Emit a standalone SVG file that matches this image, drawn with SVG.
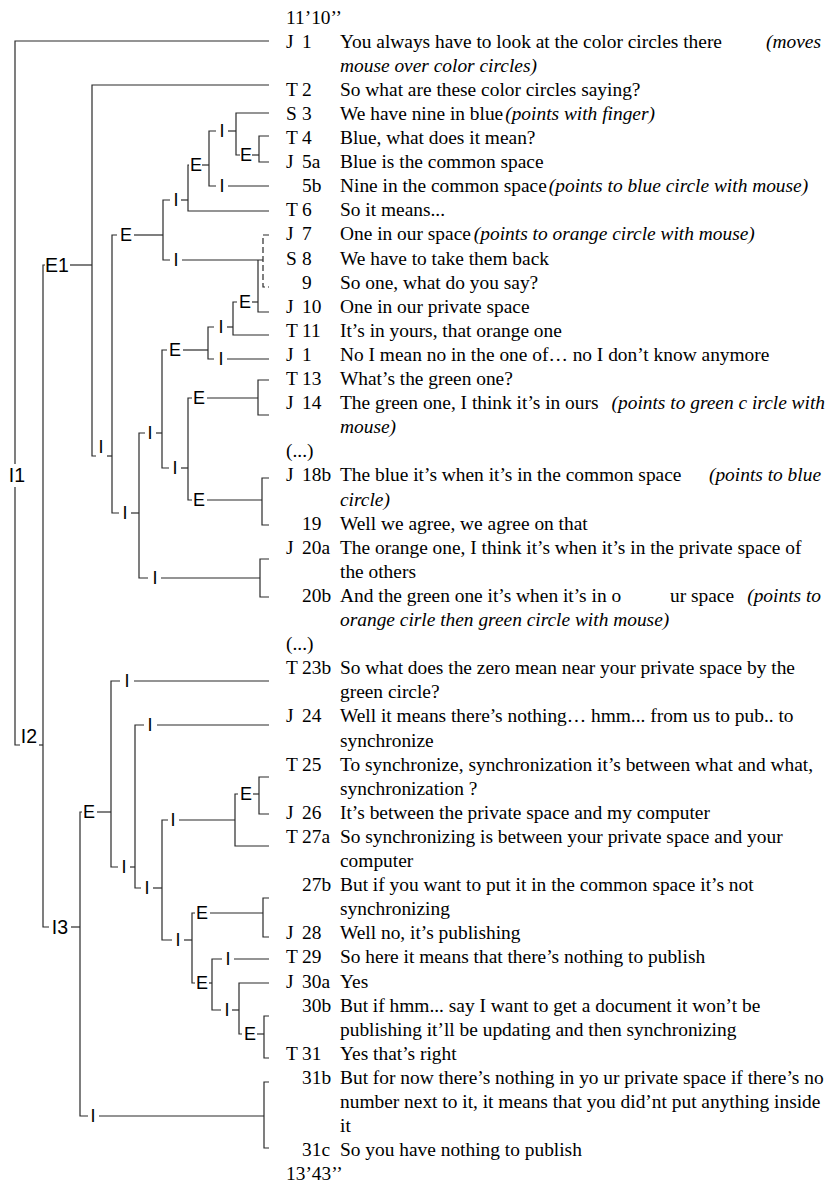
<svg xmlns="http://www.w3.org/2000/svg" width="828" height="1184" viewBox="0 0 828 1184">
<style>
.tx{font-family:"Liberation Serif","Times New Roman",serif;font-size:19.4px;fill:#000}
.it{font-style:italic}
.lb{font-family:"Liberation Sans",Arial,sans-serif;font-size:18px;fill:#000;text-anchor:middle}
.big{font-size:19.5px}
.cn path{stroke:#2a2a2a;stroke-width:1.2;fill:none}
.cn path.d{stroke-dasharray:6 3}
</style>
<rect width="828" height="1184" fill="#fff"/>
<g class="cn" id="connectors">
<path d="M269 41 H15 V464"/><path d="M15 487 V745 H20"/>
<path d="M39 745 H43"/><path d="M45 265 H43 V927 H49"/>
<path d="M70 265 H92"/><path d="M269 85 H92 V456 H96"/>
<path d="M107 456 H112"/><path d="M117 235 H112 V513 H119"/>
<path d="M134 235 H163"/><path d="M170 200 H163 V260 H170"/>
<path d="M181 200 H188"/><path d="M189 165 H188 V211 H269"/>
<path d="M202 165 H209"/><path d="M216 131 H209 V186 H216"/>
<path d="M228 131 H236"/><path d="M269 113 H236 V155 H240"/>
<path d="M252 155 H259"/><path d="M269 136 H259 V162 H269"/>
<path d="M228 186 H269"/>
<path d="M182 260 H263"/><path d="M258 260 V312 H269"/>
<path class="d" d="M269 235 H263 V287 H269"/>
<path d="M252 302 H258"/><path d="M237 302 H233 V335 H269"/>
<path d="M227 327 H233"/><path d="M214 327 H208 V359 H214"/>
<path d="M183 350 H208"/><path d="M167 350 H162 V468 H169"/>
<path d="M227 359 H269"/>
<path d="M156 433 H162"/><path d="M145 433 H139 V578 H148"/>
<path d="M181 468 H188"/><path d="M192 398 H188 V500 H192"/>
<path d="M207 398 H258"/><path d="M269 380 H258 V415 H269"/>
<path d="M207 500 H262"/><path d="M269 478 H262 V525 H269"/>
<path d="M131 513 H139"/>
<path d="M161 578 H260"/><path d="M269 559 H260 V597 H269"/>
<path d="M71 927 H80"/><path d="M82 812 H80 V1116 H88"/>
<path d="M97 812 H111"/><path d="M120 681 H111 V867 H118"/>
<path d="M134 681 H269"/>
<path d="M130 867 H135"/><path d="M144 725 H135 V888 H141"/>
<path d="M157 725 H269"/>
<path d="M153 888 H162"/><path d="M168 820 H162 V940 H172"/>
<path d="M179 820 H235"/><path d="M238 794 H235 V846 H269"/>
<path d="M253 794 H259"/><path d="M269 777 H259 V814 H269"/>
<path d="M184 940 H192"/><path d="M195 913 H192 V983 H195"/>
<path d="M210 913 H263"/><path d="M269 898 H263 V937 H269"/>
<path d="M209 983 H212"/><path d="M222 959 H212 V1010 H221"/>
<path d="M234 959 H269"/>
<path d="M232 1010 H239"/><path d="M269 983 H239 V1034 H242"/>
<path d="M257 1034 H264"/><path d="M269 1016 H264 V1058 H269"/>
<path d="M99 1116 H264"/><path d="M269 1082 H264 V1148 H269"/>
</g>
<g id="node-I1"><text class="lb big" x="17" y="482">I1</text></g>
<g id="node-I2"><text class="lb big" x="29" y="743">I2</text></g>
<g id="node-E1"><text class="lb big" x="57" y="272">E1</text></g>
<g id="node-I3"><text class="lb big" x="60" y="934">I3</text></g>
<g id="node-Ia"><text class="lb" x="101" y="453">I</text></g>
<g id="node-Ea"><text class="lb" x="126" y="241.4">E</text></g>
<g id="node-Id"><text class="lb" x="176" y="206.4">I</text></g>
<g id="node-Ec"><text class="lb" x="196" y="171.4">E</text></g>
<g id="node-Ic"><text class="lb" x="222" y="137.4">I</text></g>
<g id="node-Eb"><text class="lb" x="246" y="161.4">E</text></g>
<g id="node-If"><text class="lb" x="222" y="192.4">I</text></g>
<g id="node-Ie"><text class="lb" x="176" y="266.4">I</text></g>
<g id="node-Ed"><text class="lb" x="245" y="308.4">E</text></g>
<g id="node-Ig"><text class="lb" x="221" y="333.4">I</text></g>
<g id="node-Ee"><text class="lb" x="175" y="356.4">E</text></g>
<g id="node-Ih"><text class="lb" x="221" y="365.4">I</text></g>
<g id="node-Ii"><text class="lb" x="150" y="439.4">I</text></g>
<g id="node-Ij"><text class="lb" x="175" y="474.4">I</text></g>
<g id="node-Ef"><text class="lb" x="199" y="404.4">E</text></g>
<g id="node-Eg"><text class="lb" x="199" y="506.4">E</text></g>
<g id="node-Ib"><text class="lb" x="125" y="519.4">I</text></g>
<g id="node-Ik"><text class="lb" x="155" y="584.4">I</text></g>
<g id="node-Eh"><text class="lb" x="89" y="818.4">E</text></g>
<g id="node-Il"><text class="lb" x="127" y="687.4">I</text></g>
<g id="node-Ip"><text class="lb" x="124" y="873.4">I</text></g>
<g id="node-Im"><text class="lb" x="150" y="731.4">I</text></g>
<g id="node-Iq"><text class="lb" x="147" y="894.4">I</text></g>
<g id="node-In"><text class="lb" x="173" y="826.4">I</text></g>
<g id="node-Ek"><text class="lb" x="246" y="800.4">E</text></g>
<g id="node-Ir"><text class="lb" x="178" y="946.4">I</text></g>
<g id="node-El"><text class="lb" x="202" y="919.4">E</text></g>
<g id="node-Em"><text class="lb" x="202" y="989.4">E</text></g>
<g id="node-Is"><text class="lb" x="228" y="965.4">I</text></g>
<g id="node-It"><text class="lb" x="227" y="1016.4">I</text></g>
<g id="node-En"><text class="lb" x="250" y="1040.4">E</text></g>
<g id="node-Iz"><text class="lb" x="93" y="1122.4">I</text></g>
<g class="tx">
<g id="t-start"><text x="286" y="23.5">11’10’’</text></g>
<g id="u-1"><text x="286" y="47.6">J</text><text x="302" y="47.6">1</text><text x="340" y="47.6">You always have to look at the color circles there</text><text class="it" x="821" y="47.6" text-anchor="end">(moves</text><text class="it" x="340" y="71.7">mouse over color circles)</text></g>
<g id="u-2"><text x="286" y="95.8">T</text><text x="302" y="95.8">2</text><text x="340" y="95.8">So what are these color circles saying?</text></g>
<g id="u-3"><text x="286" y="119.9">S</text><text x="302" y="119.9">3</text><text x="340" y="119.9">We have nine in blue<tspan class="it" dx="2">(points with finger)</tspan></text></g>
<g id="u-4"><text x="286" y="144">T</text><text x="302" y="144">4</text><text x="340" y="144">Blue, what does it mean?</text></g>
<g id="u-5a"><text x="286" y="168.1">J</text><text x="302" y="168.1">5a</text><text x="340" y="168.1">Blue is the common space</text></g>
<g id="u-5b"><text x="302" y="192.2">5b</text><text x="340" y="192.2">Nine in the common space<tspan class="it" dx="2">(points to blue circle with mouse)</tspan></text></g>
<g id="u-6"><text x="286" y="216.3">T</text><text x="302" y="216.3">6</text><text x="340" y="216.3">So it means...</text></g>
<g id="u-7"><text x="286" y="240.4">J</text><text x="302" y="240.4">7</text><text x="340" y="240.4">One in our space<tspan class="it" dx="3">(points to orange circle with mouse)</tspan></text></g>
<g id="u-8"><text x="286" y="264.5">S</text><text x="302" y="264.5">8</text><text x="340" y="264.5">We have to take them back</text></g>
<g id="u-9"><text x="302" y="288.6">9</text><text x="340" y="288.6">So one, what do you say?</text></g>
<g id="u-10"><text x="286" y="312.7">J</text><text x="302" y="312.7">10</text><text x="340" y="312.7">One in our private space</text></g>
<g id="u-11"><text x="286" y="336.8">T</text><text x="302" y="336.8">11</text><text x="340" y="336.8">It’s in yours, that orange one</text></g>
<g id="u-12"><text x="286" y="360.9">J</text><text x="302" y="360.9">1</text><text x="340" y="360.9">No I mean no in the one of… no I don’t know anymore</text></g>
<g id="u-13"><text x="286" y="385">T</text><text x="302" y="385">13</text><text x="340" y="385">What’s the green one?</text></g>
<g id="u-14"><text x="286" y="409.1">J</text><text x="302" y="409.1">14</text><text x="340" y="409.1">The green one, I think it’s in ours</text><text class="it" x="825" y="409.1" text-anchor="end">(points to green c ircle with</text><text class="it" x="340" y="433.2">mouse)</text></g>
<g id="gap-1"><text x="286" y="457.3">(...)</text></g>
<g id="u-18b"><text x="286" y="481.4">J</text><text x="302" y="481.4">18b</text><text x="340" y="481.4">The blue it’s when it’s in the common space</text><text class="it" x="821" y="481.4" text-anchor="end">(points to blue</text><text class="it" x="340" y="505.5">circle)</text></g>
<g id="u-19"><text x="302" y="529.6">19</text><text x="340" y="529.6">Well we agree, we agree on that</text></g>
<g id="u-20a"><text x="286" y="553.7">J</text><text x="302" y="553.7">20a</text><text x="340" y="553.7">The orange one, I think it’s when it’s in the private space of</text><text x="340" y="577.8">the others</text></g>
<g id="u-20b"><text x="302" y="601.9">20b</text><text x="340" y="601.9">And the green one it’s when it’s in o</text><text x="670" y="601.9">ur space</text><text class="it" x="821" y="601.9" text-anchor="end">(points to</text><text class="it" x="340" y="626">orange cirle then green circle with mouse)</text></g>
<g id="gap-2"><text x="286" y="650.1">(...)</text></g>
<g id="u-23b"><text x="286" y="674.2">T</text><text x="302" y="674.2">23b</text><text x="340" y="674.2">So what does the zero mean near your private space by the</text><text x="340" y="698.3">green circle?</text></g>
<g id="u-24"><text x="286" y="722.4">J</text><text x="302" y="722.4">24</text><text x="340" y="722.4">Well it means there’s nothing… hmm... from us to pub.. to</text><text x="340" y="746.5">synchronize</text></g>
<g id="u-25"><text x="286" y="770.6">T</text><text x="302" y="770.6">25</text><text x="340" y="770.6">To synchronize, synchronization it’s between what and what,</text><text x="340" y="794.7">synchronization ?</text></g>
<g id="u-26"><text x="286" y="818.8">J</text><text x="302" y="818.8">26</text><text x="340" y="818.8">It’s between the private space and my computer</text></g>
<g id="u-27a"><text x="286" y="842.9">T</text><text x="302" y="842.9">27a</text><text x="340" y="842.9">So synchronizing is between your private space and your</text><text x="340" y="867">computer</text></g>
<g id="u-27b"><text x="302" y="891.1">27b</text><text x="340" y="891.1">But if you want to put it in the common space it’s not</text><text x="340" y="915.2">synchronizing</text></g>
<g id="u-28"><text x="286" y="939.3">J</text><text x="302" y="939.3">28</text><text x="340" y="939.3">Well no, it’s publishing</text></g>
<g id="u-29"><text x="286" y="963.4">T</text><text x="302" y="963.4">29</text><text x="340" y="963.4">So here it means that there’s nothing to publish</text></g>
<g id="u-30a"><text x="286" y="987.5">J</text><text x="302" y="987.5">30a</text><text x="340" y="987.5">Yes</text></g>
<g id="u-30b"><text x="302" y="1011.6">30b</text><text x="340" y="1011.6">But if hmm... say I want to get a document it won’t be</text><text x="340" y="1035.7">publishing it’ll be updating and then synchronizing</text></g>
<g id="u-31"><text x="286" y="1059.8">T</text><text x="302" y="1059.8">31</text><text x="340" y="1059.8">Yes that’s right</text></g>
<g id="u-31b"><text x="302" y="1083.9">31b</text><text x="340" y="1083.9">But for now there’s nothing in yo ur private space if there’s no</text><text x="340" y="1108">number next to it, it means that you did’nt put anything inside</text><text x="340" y="1132.1">it</text></g>
<g id="u-31c"><text x="302" y="1156.2">31c</text><text x="340" y="1156.2">So you have nothing to publish</text></g>
<g id="t-end"><text x="286" y="1180.3">13’43’’</text></g>
</g>
</svg>
